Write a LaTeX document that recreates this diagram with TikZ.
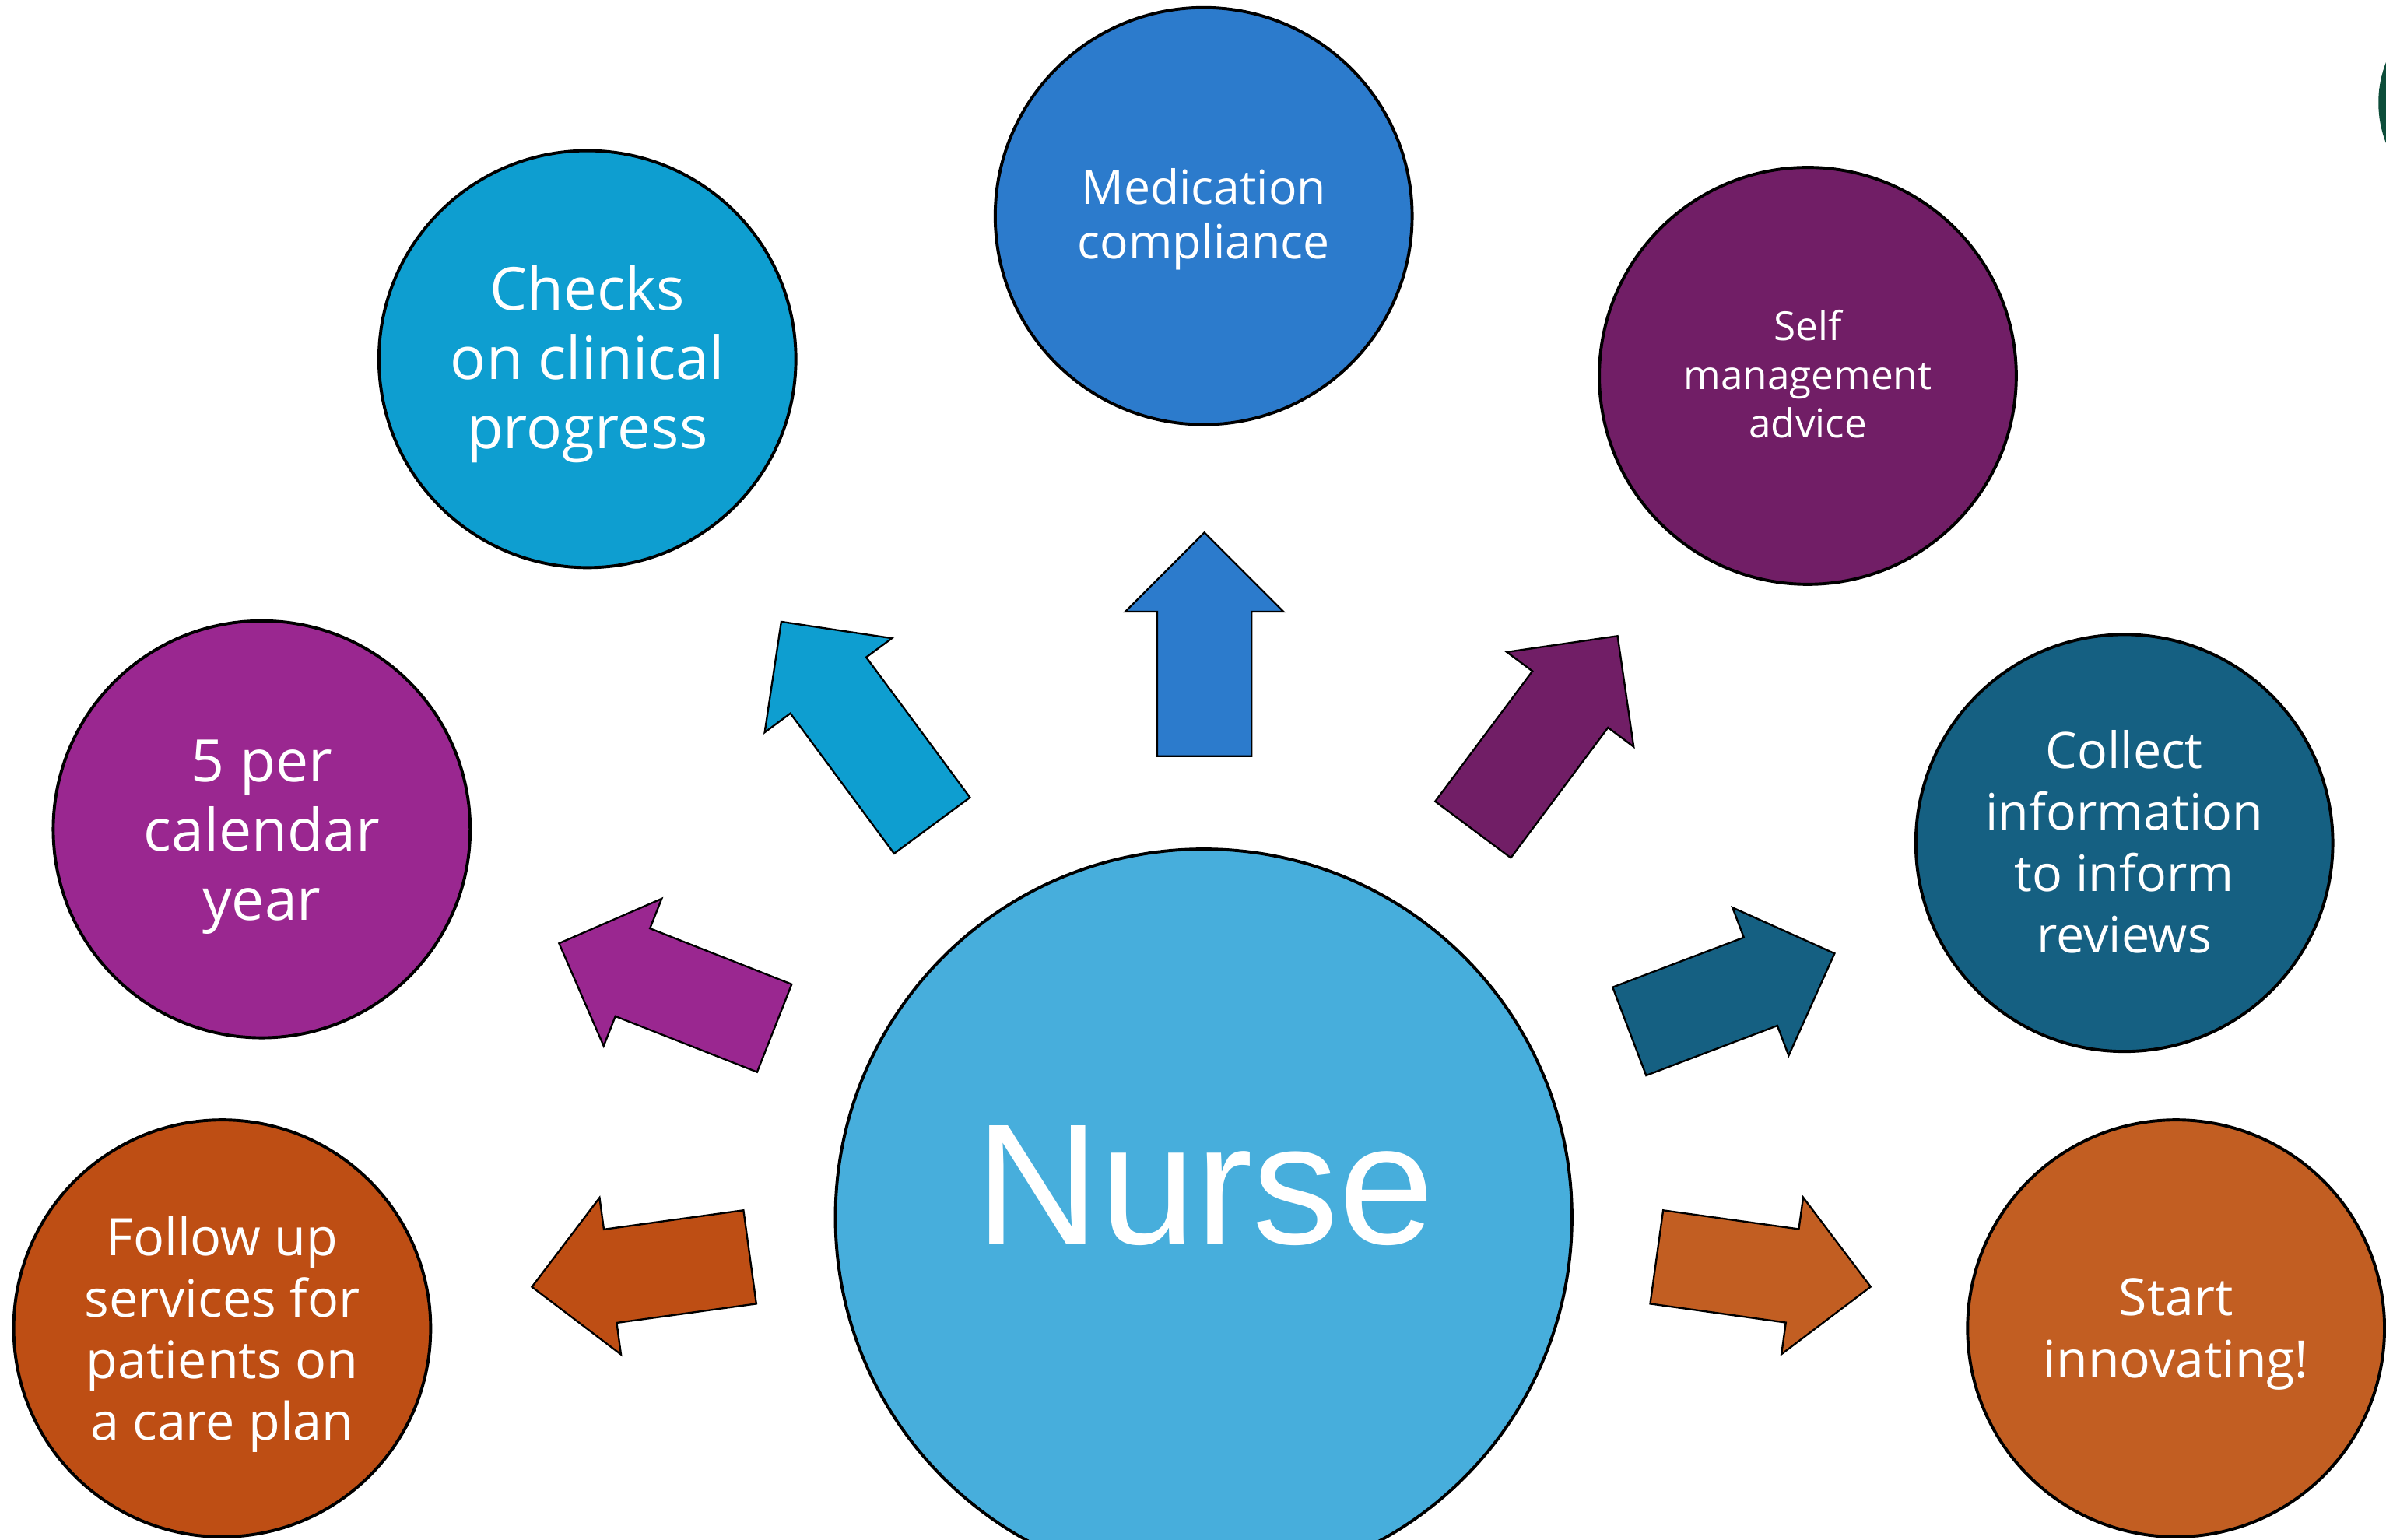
\documentclass[tikz,border=0pt]{standalone}
\usepackage{fontspec}
\setmainfont{Open Sans}
\newfontfamily\nursefont{Liberation Sans}

\definecolor{nurseblue}{HTML}{47AEDC}
\definecolor{checkcyan}{HTML}{0E9ED0}
\definecolor{medblue}{HTML}{2C7BCC}
\definecolor{selfplum}{HTML}{711E66}
\definecolor{fivemagenta}{HTML}{9A2790}
\definecolor{collectteal}{HTML}{156082}
\definecolor{followrust}{HTML}{BE4E14}
\definecolor{startorange}{HTML}{C25E22}
\definecolor{logogreen}{HTML}{0D4D3A}

% block arrow: #1 base coordinate, #2 fill, #3 direction (deg), #4 length
\newcommand\blockarrow[4]{%
  \begin{scope}[shift={(#1)}, rotate=#3]
    \filldraw[arrowbox, fill=#2]
      (0,31) -- ({#4-52},31) -- ({#4-52},52) -- (#4,0)
      -- ({#4-52},-52) -- ({#4-52},-31) -- (0,-31) -- cycle;
  \end{scope}}

\begin{document}
\begin{tikzpicture}[x=0.5pt, y=-0.5pt,
  bubble/.style={circle, draw=black, line width=1pt, inner sep=0pt, minimum size=137pt},
  caption/.style={text=white, align=center, inner sep=0pt},
  arrowbox/.style={draw=black, line width=0.6pt, line join=miter}]

\useasboundingbox (0,0) rectangle (1568,1011.6);
\fill[white] (0,0) rectangle (1568,1011.6);

% logo disc at the right edge
\node[circle, fill=logogreen, minimum size=73pt, inner sep=0pt] (logo) at (1636,67.5) {};

% central circle
\node[bubble, fill=nurseblue, minimum size=242pt] (nurse) at (791,800) {};
\node[caption, font=\nursefont\fontsize{56.5pt}{60pt}\selectfont] (nurse-t) at (792,779) {Nurse};

% surrounding topics
\node[bubble, fill=checkcyan]   (checks)  at (386,236) {};
\node[bubble, fill=medblue]     (med)     at (791,142) {};
\node[bubble, fill=selfplum]    (self)    at (1188,247) {};
\node[bubble, fill=fivemagenta] (five)    at (172,545) {};
\node[bubble, fill=collectteal] (collect) at (1396,554) {};
\node[bubble, fill=followrust]  (follow)  at (146,873) {};
\node[bubble, fill=startorange] (start)   at (1430,873) {};

\node[caption, font=\fontsize{19.5pt}{22.75pt}\selectfont] (checks-t) at ([yshift=-1.5pt]checks.center)
  {Checks\\on clinical\\progress};
\node[caption, font=\fontsize{15.5pt}{18pt}\selectfont] (med-t) at ([yshift=-1pt]med.center)
  {Medication\\compliance};
\node[caption, font=\fontsize{13.1pt}{16pt}\selectfont] (self-t) at ([yshift=0.5pt]self.center)
  {Self\\management\\advice};
\node[caption, font=\fontsize{19.2pt}{22.75pt}\selectfont] (five-t) at ([yshift=-2.5pt]five.center)
  {5 per\\calendar\\year};
\node[caption, font=\fontsize{16.5pt}{20.2pt}\selectfont] (collect-t) at ([yshift=0.5pt]collect.center)
  {Collect\\information\\to inform\\reviews};
\node[caption, font=\fontsize{17pt}{20.2pt}\selectfont] (follow-t) at ([yshift=-2pt]follow.center)
  {Follow up\\services for\\patients on\\a care plan};
\node[caption, font=\fontsize{16.9pt}{20.5pt}\selectfont] (start-t) at ([yshift=-2pt]start.center)
  {Start\\innovating!};

% arrow bases around the central circle
\coordinate (a-med)     at (791.5,497);
\coordinate (a-checks)  at (612.5,542.5);
\coordinate (a-self)    at (968,545.2);
\coordinate (a-five)    at (508.9,675.7);
\coordinate (a-collect) at (1070.8,677.8);
\coordinate (a-follow)  at (492.8,826.1);
\coordinate (a-start)   at (1088.7,826.1);

\blockarrow{a-med}{medblue}{90}{147}
\blockarrow{a-checks}{checkcyan}{126.5}{166.6}
\blockarrow{a-self}{selfplum}{53.25}{158.8}
\blockarrow{a-five}{fivemagenta}{158.5}{152.1}
\blockarrow{a-collect}{collectteal}{20.8}{144.2}
\blockarrow{a-follow}{followrust}{187.8}{144.6}
\blockarrow{a-start}{startorange}{-7.9}{142}

\end{tikzpicture}
\end{document}
